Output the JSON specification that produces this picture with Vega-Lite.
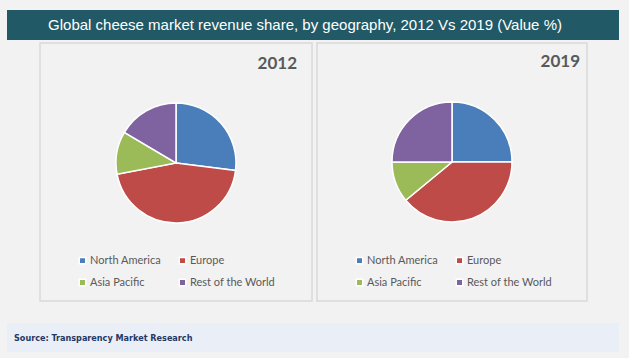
{
  "$schema": "https://vega.github.io/schema/vega-lite/v6.json",
  "background": "#f2f2f2",
  "padding": {"left": 7, "top": 10, "right": 10, "bottom": 8},
  "datasets": {
    "share": [
      {"year": "2012", "region": "North America", "idx": 1, "value": 27},
      {"year": "2012", "region": "Europe", "idx": 2, "value": 45},
      {"year": "2012", "region": "Asia Pacific", "idx": 3, "value": 11.5},
      {"year": "2012", "region": "Rest of the World", "idx": 4, "value": 16.5},
      {"year": "2019", "region": "North America", "idx": 1, "value": 25},
      {"year": "2019", "region": "Europe", "idx": 2, "value": 39},
      {"year": "2019", "region": "Asia Pacific", "idx": 3, "value": 11},
      {"year": "2019", "region": "Rest of the World", "idx": 4, "value": 25}
    ],
    "heading": [{"text": "Global cheese market revenue share, by geography, 2012 Vs 2019 (Value %)"}],
    "source": [{"text": "Source: Transparency Market Research"}],
    "blank": [{"text": ""}]
  },
  "config": {
    "view": {"stroke": null},
    "legend": {
      "orient": "none",
      "direction": "horizontal",
      "title": null,
      "columns": 2,
      "symbolType": "square",
      "symbolSize": 42,
      "symbolStrokeColor": "white",
      "symbolStrokeWidth": 1.5,
      "symbolOpacity": 1,
      "labelFont": "Lato",
      "labelFontSize": 11,
      "labelColor": "#595959",
      "labelOffset": 2,
      "columnPadding": 14,
      "rowPadding": 9,
      "padding": 0
    }
  },
  "spacing": 2,
  "vconcat": [
    {
      "width": 612,
      "height": 30,
      "view": {"fill": "#215967", "stroke": null},
      "data": {"name": "heading"},
      "mark": {"type": "text", "color": "white", "font": "Liberation Sans", "fontSize": 15, "align": "center", "baseline": "middle", "x": 298, "y": 15},
      "encoding": {"text": {"field": "text", "type": "nominal"}}
    },
    {
      "spacing": 21,
      "vconcat": [
        {
          "spacing": 3,
          "resolve": {"scale": {"color": "independent"}, "legend": {"color": "independent"}},
          "hconcat": [
            {
              "width": 29,
              "height": 258,
              "data": {"name": "blank"},
              "mark": {"type": "text"},
              "encoding": {"text": {"field": "text", "type": "nominal"}}
            },
            {
              "width": 272,
              "height": 258,
              "view": {"stroke": "#d9d9d9", "strokeWidth": 1.5, "fill": "#f2f2f2"},
              "data": {"name": "share"},
              "transform": [{"filter": "datum.year == '2012'"}],
              "layer": [
                {
                  "mark": {"type": "arc", "outerRadius": 60, "stroke": "white", "strokeWidth": 1.5, "x": 136, "y": 120},
                  "encoding": {
                    "theta": {"field": "value", "type": "quantitative", "stack": true},
                    "order": {"field": "idx", "type": "quantitative"},
                    "color": {
                      "field": "region", "type": "nominal",
                      "scale": {"domain": ["North America", "Europe", "Asia Pacific", "Rest of the World"], "range": ["#4a7ebb", "#be4b48", "#9bbb59", "#7f63a1"]},
                      "legend": {"legendX": 37, "legendY": 212}
                    }
                  }
                },
                {
                  "transform": [{"filter": "datum.idx == 1"}],
                  "mark": {"type": "text", "font": "Lato", "fontWeight": "bold", "fontSize": 17, "color": "#595959", "align": "right", "baseline": "middle", "x": 257, "y": 21},
                  "encoding": {"text": {"field": "year", "type": "nominal"}}
                }
              ]
            },
            {
              "width": 270,
              "height": 258,
              "view": {"stroke": "#d9d9d9", "strokeWidth": 1.5, "fill": "#f2f2f2"},
              "data": {"name": "share"},
              "transform": [{"filter": "datum.year == '2019'"}],
              "layer": [
                {
                  "mark": {"type": "arc", "outerRadius": 60, "stroke": "white", "strokeWidth": 1.5, "x": 135, "y": 119},
                  "encoding": {
                    "theta": {"field": "value", "type": "quantitative", "stack": true},
                    "order": {"field": "idx", "type": "quantitative"},
                    "color": {
                      "field": "region", "type": "nominal",
                      "scale": {"domain": ["North America", "Europe", "Asia Pacific", "Rest of the World"], "range": ["#4a7ebb", "#be4b48", "#9bbb59", "#7f63a1"]},
                      "legend": {"legendX": 37, "legendY": 212}
                    }
                  }
                },
                {
                  "transform": [{"filter": "datum.idx == 1"}],
                  "mark": {"type": "text", "font": "Lato", "fontWeight": "bold", "fontSize": 17, "color": "#595959", "align": "right", "baseline": "middle", "x": 263, "y": 19},
                  "encoding": {"text": {"field": "year", "type": "nominal"}}
                }
              ]
            }
          ]
        },
        {
          "width": 612,
          "height": 29,
          "view": {"fill": "#eaeff7", "stroke": null},
          "data": {"name": "source"},
          "mark": {"type": "text", "font": "DejaVu Sans Condensed", "fontWeight": "bold", "fontSize": 9, "color": "#1f3864", "align": "left", "baseline": "middle", "x": 7, "y": 14.5},
          "encoding": {"text": {"field": "text", "type": "nominal"}}
        }
      ]
    }
  ]
}
